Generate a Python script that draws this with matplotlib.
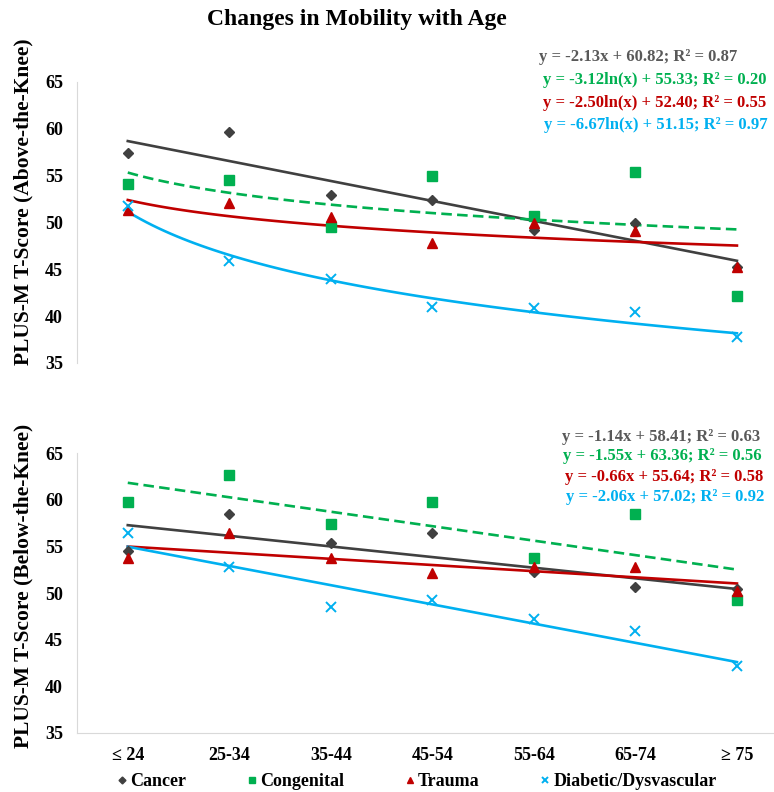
import numpy as np
import matplotlib
matplotlib.use("Agg")
import matplotlib.pyplot as plt

plt.rcParams['font.family'] = ['Liberation Serif', 'DejaVu Serif']
plt.rcParams['font.weight'] = 'bold'

age_groups = ['≤ 24', '25-34', '35-44', '45-54', '55-64', '65-74', '≥ 75']
groups = ['Cancer', 'Congenital', 'Trauma', 'Diabetic/Dysvascular']

# Above-the-knee scores
ak_cancer = [57.4, 59.7, 52.9, 52.4, 49.2, 49.9, 45.2]
ak_congenital = [54.1, 54.5, 49.5, 55.0, 50.7, 55.4, 42.2]
ak_trauma = [51.3, 52.1, 50.6, 47.8, 49.9, 49.1, 45.2]
ak_diabetic = [51.8, 45.9, 44.0, 41.0, 40.9, 40.4, 37.8]

# Below-the-knee scores
bk_cancer = [54.5, 58.5, 55.4, 56.4, 52.2, 50.6, 50.4]
bk_congenital = [59.7, 62.6, 57.4, 59.7, 53.7, 58.5, 49.2]
bk_trauma = [53.7, 56.4, 53.7, 52.1, 52.8, 52.8, 50.2]
bk_diabetic = [56.4, 52.8, 48.5, 49.2, 47.2, 45.9, 42.2]

# trend line fits: (kind, slope, intercept)
ak_fits = [('lin', -2.13, 60.82), ('log', -3.12, 55.33), ('log', -2.50, 52.40), ('log', -6.67, 51.15)]
bk_fits = [('lin', -1.14, 58.41), ('lin', -1.55, 63.36), ('lin', -0.66, 55.64), ('lin', -2.06, 57.02)]

ak_labels = ['y = -2.13x + 60.82; R² = 0.87', 'y = -3.12ln(x) + 55.33; R² = 0.20',
             'y = -2.50ln(x) + 52.40; R² = 0.55', 'y = -6.67ln(x) + 51.15; R² = 0.97']
bk_labels = ['y = -1.14x + 58.41; R² = 0.63', 'y = -1.55x + 63.36; R² = 0.56',
             'y = -0.66x + 55.64; R² = 0.58', 'y = -2.06x + 57.02; R² = 0.92']

colors = ['#404040', '#00B050', '#C00000', '#00B0F0']
text_colors = ['#595959', '#00B050', '#C00000', '#00B0F0']
markers = ['D', 's', '^', 'x']
msizes = [5, 7, 7, 7]
styles = ['-', (0, (4, 2)), '-', '-']

fig = plt.figure(figsize=(7.74, 7.92), dpi=100)
ax1 = fig.add_axes([0.0995, 0.5417, 0.9005, 0.3548])
ax2 = fig.add_axes([0.0995, 0.0745, 0.9005, 0.3535])

x = np.arange(len(age_groups))
xs = np.linspace(1, 7, 100)


def draw_panel(ax, series, fits, labels, text_pos, ylabel, label_y):
    for i, ys in enumerate(series):
        kind, a, b = fits[i]
        yfit = a * np.log(xs) + b if kind == 'log' else a * xs + b
        ax.plot(xs - 1, yfit, color=colors[i], lw=1.9, ls=styles[i], zorder=2)
        if markers[i] == 'x':
            ax.plot(x, ys, ls='none', marker='x', ms=msizes[i], mew=1.4,
                    color=colors[i], label=groups[i], zorder=3)
        else:
            ax.plot(x, ys, ls='none', marker=markers[i], ms=msizes[i],
                    color=colors[i], label=groups[i], zorder=3)
        tx, ty = text_pos[i]
        fig.text(tx / 774, 1 - ty / 792, labels[i], color=text_colors[i],
                 fontsize=12, fontweight='bold', ha='left', va='center')
    ax.set_ylim(35, 65)
    ax.set_yticks(np.arange(35, 66, 5))
    ax.set_xlim(-0.5, 6.365)
    ax.set_ylabel(ylabel, fontsize=15.5, fontweight='bold')
    ax.yaxis.set_label_coords(-0.062, label_y)
    ax.tick_params(axis='both', length=0, labelsize=13, pad=10)
    for s in ['top', 'right']:
        ax.spines[s].set_visible(False)
    ax.spines['left'].set_color('#D9D9D9')
    ax.spines['bottom'].set_color('#D9D9D9')


draw_panel(ax1, [ak_cancer, ak_congenital, ak_trauma, ak_diabetic], ak_fits, ak_labels,
           [(539, 57), (543, 80), (543, 103), (544, 125)],
           'PLUS-M T-Score (Above-the-Knee)', 0.573)
ax1.spines['bottom'].set_visible(False)
ax1.set_xticks([])

draw_panel(ax2, [bk_cancer, bk_congenital, bk_trauma, bk_diabetic], bk_fits, bk_labels,
           [(562, 437), (563, 456), (565, 477), (566, 497)],
           'PLUS-M T-Score (Below-the-Knee)', 0.525)
ax2.set_xticks(x)
ax2.set_xticklabels(age_groups)

fig.text(357 / 774, 1 - 20 / 792, 'Changes in Mobility with Age', fontsize=17,
         fontweight='bold', ha='center', va='center')

handles, lbls = ax2.get_legend_handles_labels()
fig.legend(handles, lbls, loc='center', bbox_to_anchor=(416 / 774, 1 - 782 / 792),
           ncol=4, frameon=False, fontsize=13, handletextpad=0.1, columnspacing=3.3,
           handlelength=0.7, markerscale=0.7)

fig.savefig('out.png', dpi=100)
